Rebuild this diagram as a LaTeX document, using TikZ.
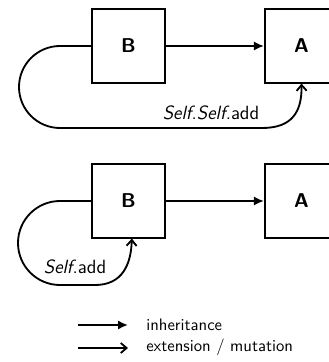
\documentclass[tikz,border=0pt]{standalone}
\usetikzlibrary{arrows.meta}
\begin{document}
\begin{tikzpicture}[x=0.6pt,y=-0.6pt,
  font=\sffamily,
  box/.style={draw,line width=1.1pt,minimum width=44pt,minimum height=44pt,inner sep=0pt,font=\sffamily\bfseries\fontsize{12}{14}\selectfont},
  inh/.style={line width=1.1pt,-{Latex[length=6pt,width=5.5pt]}},
  ext/.style={line width=1.1pt,-{Straight Barb[length=3.5pt,width=6pt,line width=1.1pt]}},
  lbl/.style={font=\sffamily\fontsize{11.5}{13}\selectfont,inner sep=0pt},
  leg/.style={font=\sffamily\fontsize{10}{12}\selectfont,anchor=west,inner sep=0pt}]
\clip (0,0) rectangle (329,362);
% top
\node[box] (B1) at (128.5,46) {B};
\node[box] (A1) at (301.5,46) {A};
\draw[inh] (B1.east) -- (A1.west);
\draw[ext] (B1.west) -- (60,46) arc[start angle=90,end angle=270,radius=24.6pt] -- (262,128)
  .. controls (292,128) and (302,112) .. (A1.south);
\node[lbl] (L1) at (211,113) {\textit{Self}.\textit{Self}.add};
% bottom
\node[box] (B2) at (128.5,201) {B};
\node[box] (A2) at (301.5,201) {A};
\draw[inh] (B2.east) -- (A2.west);
\draw[ext] (B2.west) -- (60,201) arc[start angle=90,end angle=270,radius=25.2pt] -- (95,285)
  .. controls (122,285) and (131,265) .. ([xshift=2pt]B2.south);
\node[lbl] (L2) at (75,267) {\textit{Self}.add};
% legend
\coordinate (g1a) at (78,325);
\coordinate (g1b) at (128,325);
\coordinate (g2a) at (78,348);
\coordinate (g2b) at (128,348);
\draw[inh] (g1a) -- (g1b);
\draw[ext] (g2a) -- (g2b);
\node[leg] (t1) at (146,324.5) {inheritance};
\node[leg] (t2) at (146,347.5) {extension / mutation};
\end{tikzpicture}
\end{document}
